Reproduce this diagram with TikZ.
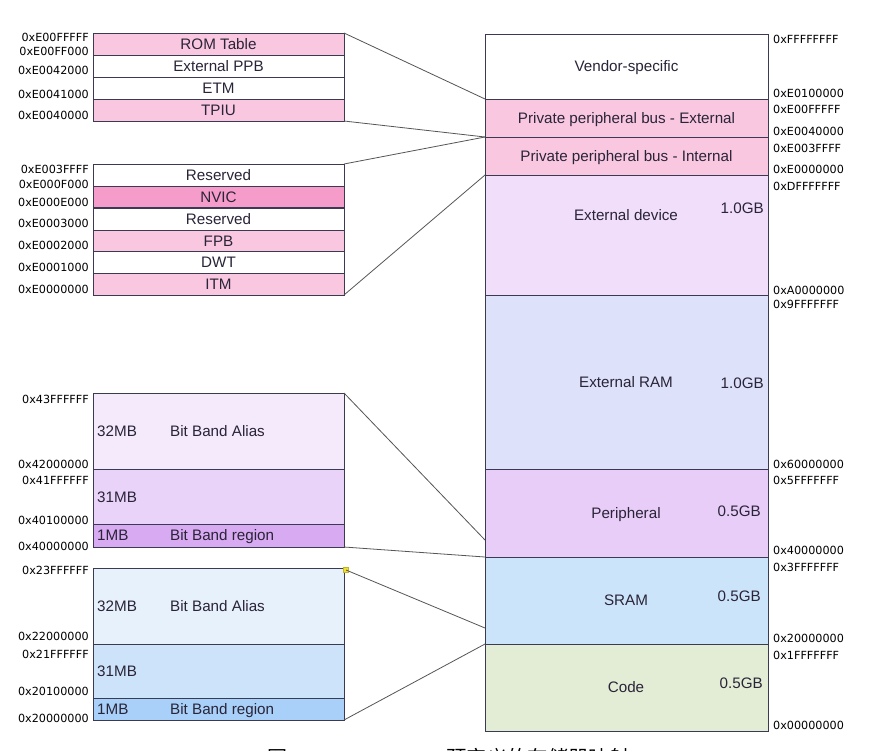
\documentclass[tikz,border=0pt]{standalone}
\usepackage{fontspec}
\setmainfont{Liberation Sans}
\newfontfamily\addrfont{DejaVu Sans}
\newfontfamily\cjk{Noto Sans CJK SC}
\definecolor{pinkrow}{HTML}{F9C8E0}
\definecolor{nvic}{HTML}{F59CCA}
\definecolor{extdev}{HTML}{F1DEFA}
\definecolor{extram}{HTML}{DDE1FA}
\definecolor{periph}{HTML}{E8CDF8}
\definecolor{sram}{HTML}{CCE4FA}
\definecolor{code}{HTML}{E3EDD5}
\definecolor{palias}{HTML}{F4EAFB}
\definecolor{pmid}{HTML}{EAD3F9}
\definecolor{pbit}{HTML}{D8AAF2}
\definecolor{balias}{HTML}{E7F1FC}
\definecolor{bmid}{HTML}{CDE3FA}
\definecolor{bbit}{HTML}{A8D0F8}
\definecolor{edge}{HTML}{3A3A52}
\definecolor{conn}{HTML}{555555}
\definecolor{txt}{HTML}{2A2438}
\definecolor{handle}{HTML}{F2E030}
\tikzset{
  cell/.style={draw=edge, line width=0.9pt, inner sep=0pt, outer sep=0pt, text=txt,
    font=\fontsize{15.2}{16}\selectfont, text height=11pt, text depth=0.5pt},
  lrow/.style={cell, minimum width=251pt, minimum height=#1},
  mrow/.style={cell, minimum width=283pt, minimum height=#1},
  addr/.style={font=\addrfont\fontsize{11.2}{12}\selectfont, text=black, inner sep=0pt},
  addrL/.style={addr, anchor=east},
  addrR/.style={addr, anchor=west},
  lbl/.style={font=\fontsize{15.2}{16}\selectfont, text=txt, inner sep=0pt,
    text height=11pt, text depth=0.5pt},
  conline/.style={draw=conn, line width=0.8pt},
}
\begin{document}
\begin{tikzpicture}[x=1pt,y=-1pt]
\useasboundingbox[fill=white] (0,0) rectangle (880,750);
% ---------- main column ----------
\node[mrow=65pt, fill=white]   (vend) at (626.5,66.5)  {Vendor-specific};
\node[mrow=38pt, fill=pinkrow] (ppbe) at (626.5,118)   {Private peripheral bus - External};
\node[mrow=38pt, fill=pinkrow] (ppbi) at (626.5,156)   {Private peripheral bus - Internal};
\node[mrow=120pt, fill=extdev] (edev) at (626.5,235)   {};
\node[mrow=174pt, fill=extram] (eram) at (626.5,382)   {};
\node[mrow=88pt, fill=periph]  (peri) at (626.5,513)   {};
\node[mrow=87pt, fill=sram]    (sram) at (626.5,600.5) {};
\node[mrow=87pt, fill=code]    (code) at (626.5,687.5) {};
\node[lbl] (tedev) at (626,215) {External device};
\node[lbl, anchor=east] (gedev) at (764,208) {1.0GB};
\node[lbl] (teram) at (626,382) {External RAM};
\node[lbl, anchor=east] (geram) at (764,383) {1.0GB};
\node[lbl] (tperi) at (626,513) {Peripheral};
\node[lbl, anchor=east] (gperi) at (761,511) {0.5GB};
\node[lbl] (tsram) at (626,600) {SRAM};
\node[lbl, anchor=east] (gsram) at (761,596) {0.5GB};
\node[lbl] (tcode) at (626,687) {Code};
\node[lbl, anchor=east] (gcode) at (763,683) {0.5GB};
% right addresses
\node[addrR] (r1)  at (773,39)  {0xFFFFFFFF};
\node[addrR] (r2)  at (773,93)  {0xE0100000};
\node[addrR] (r3)  at (773,109) {0xE00FFFFF};
\node[addrR] (r4)  at (773,131) {0xE0040000};
\node[addrR] (r5)  at (773,148) {0xE003FFFF};
\node[addrR] (r6)  at (773,169) {0xE0000000};
\node[addrR] (r7)  at (773,186) {0xDFFFFFFF};
\node[addrR] (r8)  at (773,290) {0xA0000000};
\node[addrR] (r9)  at (773,304) {0x9FFFFFFF};
\node[addrR] (r10) at (773,464) {0x60000000};
\node[addrR] (r11) at (773,480) {0x5FFFFFFF};
\node[addrR] (r12) at (773,550) {0x40000000};
\node[addrR] (r13) at (773,567) {0x3FFFFFFF};
\node[addrR] (r14) at (773,638) {0x20000000};
\node[addrR] (r15) at (773,655) {0x1FFFFFFF};
\node[addrR] (r16) at (773,725) {0x00000000};
% ---------- external PPB group ----------
\node[lrow=22pt, fill=pinkrow] (rom)  at (218.5,44)  {ROM Table};
\node[lrow=22pt, fill=white]   (xppb) at (218.5,66)  {External PPB};
\node[lrow=22pt, fill=white]   (etm)  at (218.5,88)  {ETM};
\node[lrow=22pt, fill=pinkrow] (tpiu) at (218.5,110) {TPIU};
\node[addrL] (a1) at (89,37)  {0xE00FFFFF};
\node[addrL] (a2) at (89,51)  {0xE00FF000};
\node[addrL] (a3) at (89,70)  {0xE0042000};
\node[addrL] (a4) at (89,94)  {0xE0041000};
\node[addrL] (a5) at (89,115) {0xE0040000};
% ---------- internal PPB group ----------
\node[lrow=22pt, fill=white]   (res1) at (218.5,175)   {Reserved};
\node[lrow=21.5pt, fill=nvic]  (nvic) at (218.5,197)   {NVIC};
\node[lrow=22pt, fill=white]   (res2) at (218.5,219)   {Reserved};
\node[lrow=22pt, fill=pinkrow] (fpb)  at (218.5,241)   {FPB};
\node[lrow=21.5pt, fill=white] (dwt)  at (218.5,262.5) {DWT};
\node[lrow=22pt, fill=pinkrow] (itm)  at (218.5,284)   {ITM};
\node[addrL] (b1) at (89,169) {0xE003FFFF};
\node[addrL] (b2) at (89,184) {0xE000F000};
\node[addrL] (b3) at (89,202) {0xE000E000};
\node[addrL] (b4) at (89,223) {0xE0003000};
\node[addrL] (b5) at (89,245) {0xE0002000};
\node[addrL] (b6) at (89,267) {0xE0001000};
\node[addrL] (b7) at (89,289) {0xE0000000};
% ---------- peripheral bit band ----------
\node[lrow=76pt, fill=palias] (palias) at (218.5,431) {};
\node[lrow=55pt, fill=pmid]   (pmid)   at (218.5,496.5) {};
\node[lrow=23pt, fill=pbit]   (pbit)   at (218.5,535.5) {};
\node[lbl, anchor=west] (p32) at (97,431) {32MB};
\node[lbl, anchor=west] (pba) at (170,431) {Bit Band Alias};
\node[lbl, anchor=west] (p31) at (97,497) {31MB};
\node[lbl, anchor=west] (p1)  at (97,535) {1MB};
\node[lbl, anchor=west] (pbr) at (170,535) {Bit Band region};
\node[addrL] (c1) at (89,399) {0x43FFFFFF};
\node[addrL] (c2) at (89,464) {0x42000000};
\node[addrL] (c3) at (89,480) {0x41FFFFFF};
\node[addrL] (c4) at (89,520) {0x40100000};
\node[addrL] (c5) at (89,546) {0x40000000};
% ---------- SRAM bit band ----------
\node[lrow=76pt, fill=balias] (balias) at (218.5,606) {};
\node[lrow=54pt, fill=bmid]   (bmid)   at (218.5,671) {};
\node[lrow=22pt, fill=bbit]   (bbit)   at (218.5,709) {};
\node[lbl, anchor=west] (s32) at (97,606) {32MB};
\node[lbl, anchor=west] (sba) at (170,606) {Bit Band Alias};
\node[lbl, anchor=west] (s31) at (97,671) {31MB};
\node[lbl, anchor=west] (s1)  at (97,709) {1MB};
\node[lbl, anchor=west] (sbr) at (170,709) {Bit Band region};
\node[addrL] (d1) at (89,570) {0x23FFFFFF};
\node[addrL] (d2) at (89,636) {0x22000000};
\node[addrL] (d3) at (89,654) {0x21FFFFFF};
\node[addrL] (d4) at (89,691) {0x20100000};
\node[addrL] (d5) at (89,718) {0x20000000};
% ---------- connectors ----------
\coordinate (periin) at (485,540);
\coordinate (sramin) at (485,628);
\draw[conline] (rom.north east) -- (ppbe.north west);
\draw[conline] (tpiu.south east) -- (ppbi.north west);
\draw[conline] (res1.north east) -- (ppbi.north west);
\draw[conline] (itm.south east) -- (ppbi.south west);
\draw[conline] (palias.north east) -- (periin);
\draw[conline] (pbit.south east) -- (peri.south west);
\node[fill=handle, draw=handle!80!black, line width=0.3pt, minimum size=5pt, inner sep=0pt] (hdl) at (346,570) {};
\draw[conline] (hdl.center) -- (sramin);
\draw[conline] (bbit.south east) -- (sram.south west);
% ---------- caption (cut off at the bottom, as in the source) ----------
\node[font=\cjk\fontsize{20}{20}\selectfont, inner sep=0pt] (cap1) at (277,758) {图};
\node[font=\cjk\fontsize{20.3}{20}\selectfont, inner sep=0pt] (cap2) at (538,758) {预定义的存储器映射};
\end{tikzpicture}
\end{document}
